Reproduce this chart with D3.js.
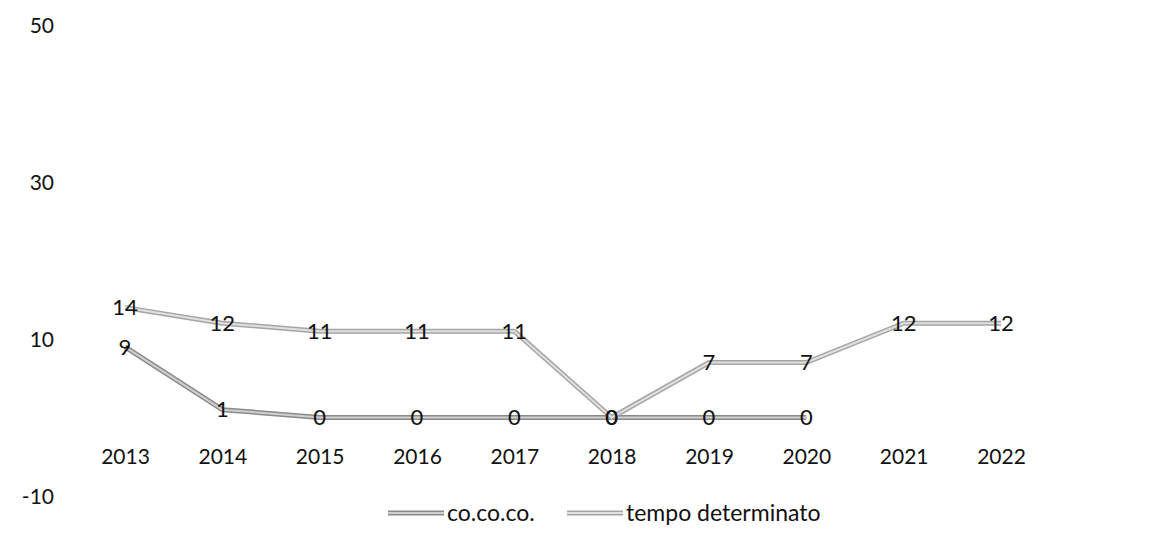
<!DOCTYPE html>
<html>
<head>
<meta charset="utf-8">
<script src="https://cdn.jsdelivr.net/npm/d3@7"></script>
<style>
  body { margin: 0; background: #fff; }
  text { font-family: Lato, "Open Sans", sans-serif; fill: #111; }
</style>
</head>
<body>
<div id="chart"></div>
<script>
var years = ["2013", "2014", "2015", "2016", "2017", "2018", "2019", "2020", "2021", "2022"];
var cococo = [9, 1, 0, 0, 0, 0, 0, 0, null, null];
var tempoDet = [14, 12, 11, 11, 11, 0, 7, 7, 12, 12];
var yTicks = [-10, 10, 30, 50];
var seriesNames = ["co.co.co.", "tempo determinato"];

var width = 1173, height = 539;

var svg = d3.select("#chart").append("svg")
    .attr("width", width)
    .attr("height", height);

var x = d3.scalePoint()
    .domain(years)
    .range([125, 1001]);

var y = d3.scaleLinear()
    .domain([-10, 50])
    .range([496, 25]);

// y labels, no axis line
var yAxis = d3.axisLeft(y).tickValues(yTicks).tickSize(0).tickPadding(0)
    .tickFormat(function(d) { return String(d); });
var gy = svg.append("g")
    .attr("transform", "translate(54,0)")
    .call(yAxis);
gy.select(".domain").remove();
gy.selectAll("text")
    .style("font-size", "21px")
    .attr("dy", "0.35em");

// year labels sit in the plot, not on the zero line
var xAxis = d3.axisBottom(x).tickSize(0).tickPadding(0);
var gx = svg.append("g")
    .attr("transform", "translate(0,457)")
    .call(xAxis);
gx.select(".domain").remove();
gx.selectAll("text")
    .style("font-size", "21px")
    .attr("dy", "0.35em");

var series = [
  {name: seriesNames[0], values: cococo, outer: "#8a8a8a", inner: "#cfcfcf"},
  {name: seriesNames[1], values: tempoDet, outer: "#a5a5a5", inner: "#e0e0e0"}
];

var line = d3.line()
    .defined(function(d) { return d != null; })
    .x(function(d, i) { return x(years[i]); })
    .y(function(d) { return y(d); });

series.forEach(function(s) {
  svg.append("path")
      .attr("d", line(s.values))
      .attr("fill", "none")
      .attr("stroke", s.outer)
      .attr("stroke-width", 5)
      .attr("stroke-linejoin", "round");
  svg.append("path")
      .attr("d", line(s.values))
      .attr("fill", "none")
      .attr("stroke", s.inner)
      .attr("stroke-width", 2);
});

series.forEach(function(s) {
  svg.selectAll(null)
      .data(s.values.map(function(v, i) { return {v: v, year: years[i]}; })
                    .filter(function(d) { return d.v != null; }))
      .enter()
      .append("text")
      .attr("x", function(d) { return x(d.year); })
      .attr("y", function(d) { return y(d.v); })
      .attr("dy", "0.35em")
      .attr("text-anchor", "middle")
      .style("font-size", "22px")
      .text(function(d) { return d.v; });
});

// legend
var legend = svg.append("g").attr("transform", "translate(0,513)");
var legendX = [388, 567];
series.forEach(function(s, i) {
  var g = legend.append("g").attr("transform", "translate(" + legendX[i] + ",0)");
  g.append("line")
      .attr("x1", 0).attr("x2", 56)
      .attr("stroke", s.outer).attr("stroke-width", 5);
  g.append("line")
      .attr("x1", 0).attr("x2", 56)
      .attr("stroke", s.inner).attr("stroke-width", 2);
  g.append("text")
      .attr("x", 59)
      .attr("dy", "0.35em")
      .style("font-size", "23px")
      .text(s.name);
});
</script>
</body>
</html>
